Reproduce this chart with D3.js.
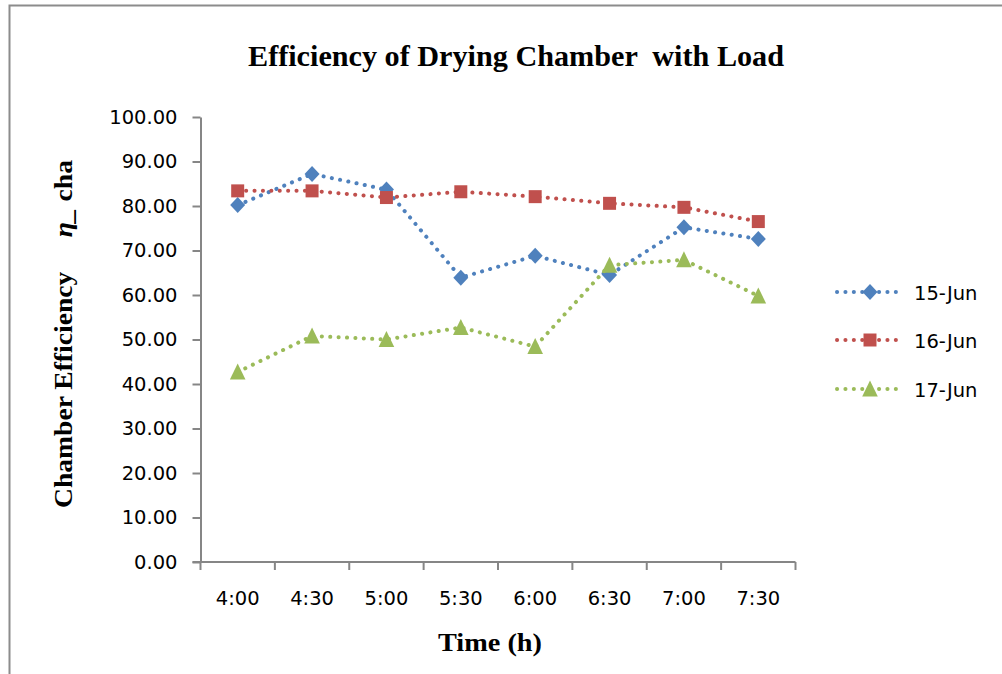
<!DOCTYPE html>
<html>
<head>
<meta charset="utf-8">
<script src="https://cdn.jsdelivr.net/npm/d3@7"></script>
<style>
  html, body { margin: 0; padding: 0; background: #fff; }
  svg { display: block; }
</style>
</head>
<body>
<svg id="chart" width="1002" height="674"></svg>
<script>
// Measured efficiency of the drying chamber (with load) on three days
const times = ["4:00", "4:30", "5:00", "5:30", "6:00", "6:30", "7:00", "7:30"];
const jun15 = [80.2, 87.2, 83.7, 63.9, 68.8, 64.5, 75.2, 72.6];
const jun16 = [83.4, 83.4, 81.9, 83.2, 82.1, 80.6, 79.7, 76.5];
const jun17 = [42.7, 50.8, 50.0, 52.7, 48.4, 66.7, 67.9, 59.8];
const seriesNames = ["15-Jun", "16-Jun", "17-Jun"];
const yTicks = [0, 10, 20, 30, 40, 50, 60, 70, 80, 90, 100];

// marker shapes (custom d3.symbol types)
const diamondType = { draw(ctx) { ctx.moveTo(0, -8); ctx.lineTo(7.5, 0); ctx.lineTo(0, 8); ctx.lineTo(-7.5, 0); ctx.closePath(); } };
const squareType = { draw(ctx) { ctx.rect(-6.5, -6.5, 13, 13); } };
const triangleType = { draw(ctx) { ctx.moveTo(0, -8.5); ctx.lineTo(7.8, 7.5); ctx.lineTo(-7.8, 7.5); ctx.closePath(); } };

const series = [
  { name: seriesNames[0], values: jun15, color: "#4F81BD", type: diamondType },
  { name: seriesNames[1], values: jun16, color: "#C0504D", type: squareType },
  { name: seriesNames[2], values: jun17, color: "#9BBB59", type: triangleType }
];

const svg = d3.select("#chart");
const axisColor = "#868686";
const sansFont = "'DejaVu Sans', Verdana, sans-serif";
const serifFont = "'Liberation Serif', 'DejaVu Serif', serif";

// outer chart frame
svg.append("path")
  .attr("d", "M9.5,674 L9.5,5.5 L1002,5.5")
  .attr("fill", "none").attr("stroke", "#8c8c8c").attr("stroke-width", 2);

const plot = { left: 200.5, right: 795.5, top: 117, bottom: 562 };

const x = d3.scaleBand().domain(times).range([plot.left, plot.right]);
const y = d3.scaleLinear().domain([0, 100]).range([plot.bottom, plot.top]);

// Title
svg.append("text")
  .attr("x", 516).attr("y", 66)
  .attr("text-anchor", "middle")
  .attr("font-family", serifFont)
  .attr("font-weight", "bold")
  .attr("font-size", 29)
  .attr("textLength", 536)
  .attr("lengthAdjust", "spacingAndGlyphs")
  .attr("fill", "#000")
  .attr("xml:space", "preserve")
  .text("Efficiency of Drying Chamber  with Load");

// Y axis
const yAxis = d3.axisLeft(y).tickValues(yTicks).tickSize(8).tickSizeOuter(0)
  .tickFormat(d3.format(".2f"));
const gy = svg.append("g").attr("transform", `translate(${plot.left},0)`).call(yAxis);
gy.select(".domain").attr("stroke", axisColor).attr("stroke-width", 2);
gy.selectAll(".tick line").attr("stroke", axisColor).attr("stroke-width", 2);
gy.selectAll(".tick text")
  .attr("x", -23)
  .attr("font-family", sansFont)
  .attr("font-size", 19.5)
  .attr("fill", "#000");

// X axis with tick marks on category boundaries
const gx = svg.append("g").attr("transform", `translate(0,${plot.bottom})`);
gx.append("line")
  .attr("x1", plot.left - 8).attr("x2", plot.right)
  .attr("stroke", axisColor).attr("stroke-width", 2);
const bounds = times.map(t => x(t)).concat([x(times[times.length - 1]) + x.bandwidth()]);
gx.selectAll("line.tk").data(bounds).join("line")
  .attr("class", "tk")
  .attr("x1", d => d).attr("x2", d => d)
  .attr("y1", 0).attr("y2", 8)
  .attr("stroke", axisColor).attr("stroke-width", 2);
gx.selectAll("text.lbl").data(times).join("text")
  .attr("class", "lbl")
  .attr("x", d => x(d) + x.bandwidth() / 2)
  .attr("y", 43)
  .attr("text-anchor", "middle")
  .attr("font-family", sansFont)
  .attr("font-size", 19.5)
  .attr("fill", "#000")
  .text(d => d);

// Axis titles
svg.append("text")
  .attr("x", 490).attr("y", 651)
  .attr("text-anchor", "middle")
  .attr("font-family", serifFont)
  .attr("font-weight", "bold")
  .attr("font-size", 26)
  .attr("textLength", 104)
  .attr("lengthAdjust", "spacingAndGlyphs")
  .attr("fill", "#000")
  .text("Time (h)");

const yTitle = svg.append("text")
  .attr("transform", "translate(72,334) rotate(-90)")
  .attr("text-anchor", "middle")
  .attr("font-family", serifFont)
  .attr("font-weight", "bold")
  .attr("font-size", 25)
  .attr("textLength", 348)
  .attr("lengthAdjust", "spacingAndGlyphs")
  .attr("fill", "#000")
  .attr("xml:space", "preserve");
yTitle.append("tspan").text("Chamber Efficiency     ");
yTitle.append("tspan").attr("font-style", "italic").text("η_");
yTitle.append("tspan").text(" cha");

// Dotted series lines and markers
const line = d3.line()
  .x((d, i) => x(times[i]) + x.bandwidth() / 2)
  .y(d => y(d));

const dotted = sel => sel
  .attr("stroke-width", 4)
  .attr("stroke-linecap", "round")
  .attr("stroke-dasharray", "0.1 8.3");

series.forEach(s => {
  const g = svg.append("g");
  g.append("path")
    .attr("d", line(s.values))
    .attr("fill", "none")
    .attr("stroke", s.color)
    .call(dotted);
  g.selectAll("path.mk").data(s.values).join("path")
    .attr("class", "mk")
    .attr("d", d3.symbol().type(s.type)())
    .attr("transform", (d, i) => `translate(${x(times[i]) + x.bandwidth() / 2},${y(d)})`)
    .attr("fill", s.color);
});

// Legend
const legendY = [292, 340, 389];
series.forEach((s, i) => {
  const g = svg.append("g").attr("transform", `translate(0,${legendY[i]})`);
  g.append("line")
    .attr("x1", 837).attr("x2", 904)
    .attr("stroke", s.color)
    .call(dotted);
  g.append("path")
    .attr("d", d3.symbol().type(s.type)())
    .attr("transform", "translate(870,0)")
    .attr("fill", s.color);
  g.append("text")
    .attr("x", 914).attr("y", 7.5)
    .attr("font-family", sansFont)
    .attr("font-size", 19.5)
    .attr("fill", "#000")
    .text(s.name);
});
</script>
</body>
</html>
